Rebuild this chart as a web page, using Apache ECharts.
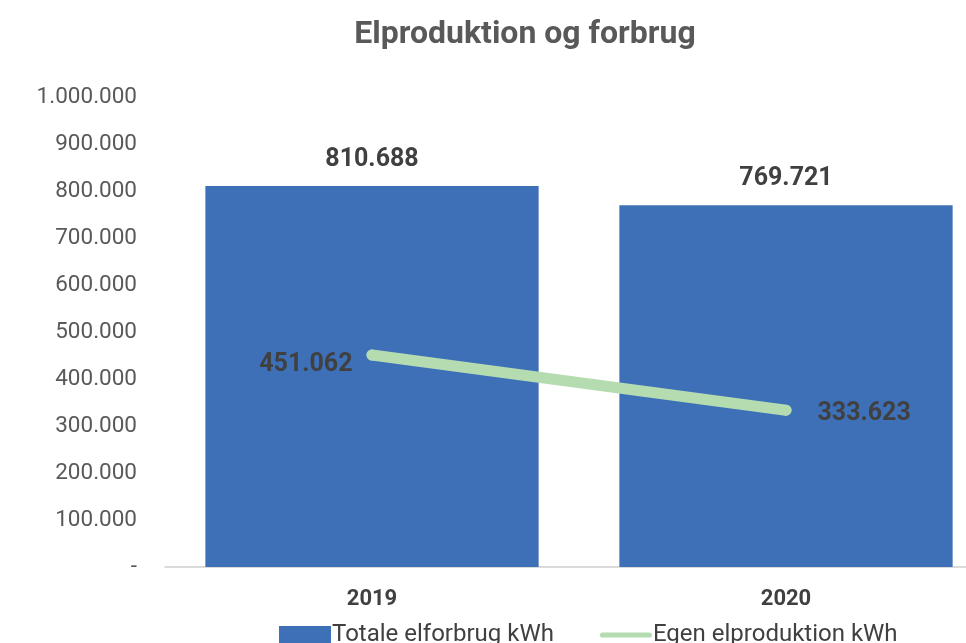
<!DOCTYPE html>
<html>
<head>
<meta charset="utf-8">
<script src="https://cdn.jsdelivr.net/npm/echarts@6/dist/echarts.min.js"></script>
<style>html,body{margin:0;padding:0;background:#fff}#c{width:966px;height:643px}</style>
</head>
<body>
<div id="c"></div>
<script>
const categories = ['2019', '2020'];
const consumption = [810688, 769721];
const production = [451062, 333623];
const seriesNames = ['Totale elforbrug kWh', 'Egen elproduktion kWh'];
const yTicks = [0, 100000, 200000, 300000, 400000, 500000, 600000, 700000, 800000, 900000, 1000000];

function fmt(v) {
  if (v === 0) return '-';
  return String(Math.round(v)).replace(/\B(?=(\d{3})+(?!\d))/g, '.');
}

const chart = echarts.init(document.getElementById('c'));
chart.setOption({
  animation: false,
  title: {
    text: 'Elproduktion og forbrug',
    left: 520, top: 14, textAlign: 'center',
    textStyle: { fontFamily: 'Roboto', fontWeight: 'bold', fontSize: 32, color: '#595959' }
  },
  grid: { left: 165, width: 828, top: 97, bottom: 76, containLabel: false, outerBoundsMode: 'none' },
  xAxis: {
    type: 'category',
    data: categories,
    axisLine: { lineStyle: { color: '#d0d0d0', width: 1.5 } },
    axisTick: { show: false },
    axisLabel: { margin: 21, fontFamily: 'Roboto', fontWeight: 'bold', fontSize: 22, color: '#404040' }
  },
  yAxis: {
    type: 'value',
    min: yTicks[0], max: yTicks[yTicks.length - 1], interval: yTicks[1] - yTicks[0],
    splitLine: { show: false },
    axisLine: { show: false },
    axisTick: { show: false },
    axisLabel: { margin: 28, fontFamily: 'Roboto', fontSize: 22.5, color: '#595959', formatter: fmt }
  },
  legend: {
    top: 618, left: 274,
    itemGap: 46, itemWidth: 52, itemHeight: 18,
    textStyle: { fontFamily: 'Roboto', fontSize: 24, color: '#404040', padding: [0, 0, 0, -4] },
    data: [
      { name: seriesNames[0], icon: 'rect' },
      { name: seriesNames[1], icon: 'path://M5,0 L95,0 A5,5 0 0 1 95,10 L5,10 A5,5 0 0 1 5,0 Z' }
    ]
  },
  series: [
    {
      name: seriesNames[0],
      type: 'bar',
      data: consumption,
      barCategoryGap: '19.5%',
      itemStyle: { color: '#3e70b8' },
      label: {
        show: true, position: 'top', distance: 14,
        fontFamily: 'Roboto', fontWeight: 'bold', fontSize: 25, color: '#404040',
        formatter: p => fmt(p.value)
      }
    },
    {
      name: seriesNames[1],
      type: 'line',
      data: production.map((v, i) => ({
        value: v,
        label: i === 0 ? { position: 'left', distance: 14, offset: [0, 10] }
                       : { position: 'right', distance: 26, offset: [0, 4] }
      })),
      symbol: 'circle',
      symbolSize: 11,
      showSymbol: true,
      lineStyle: { color: '#b5dcb0', width: 11, cap: 'round' },
      itemStyle: { color: '#b5dcb0', borderWidth: 0 },
      label: {
        show: true,
        fontFamily: 'Roboto', fontWeight: 'bold', fontSize: 25, color: '#404040',
        formatter: p => fmt(p.value)
      },
      z: 3
    }
  ]
});
</script>
</body>
</html>
